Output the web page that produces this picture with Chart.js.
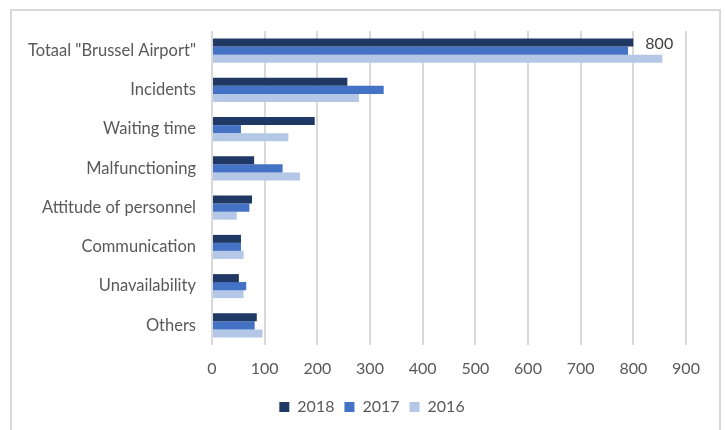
<!DOCTYPE html>
<html><head><meta charset="utf-8">
<script src="https://cdn.jsdelivr.net/npm/chart.js@4"></script>
<style>
html,body{margin:0;padding:0;background:#fff;}
canvas{display:block;}
</style></head>
<body>
<canvas id="c" width="726" height="430"></canvas>
<script>
const categories = ['Totaal "Brussel Airport"','Incidents','Waiting time','Malfunctioning','Attitude of personnel','Communication','Unavailability','Others'];
const seriesNames = ['2018','2017','2016'];
const values2018 = [800,257,195,80,76,55,51,85];
const values2017 = [790,326,55,134,71,55,65,81];
const values2016 = [855,279,145,167,47,60,60,96];
const xTicks = [0,100,200,300,400,500,600,700,800,900];
const colors = ['#203864','#4472C4','#B4C7E7'];
const labelled = {dataset:0,index:0};

const FONT = 'Lato, "Liberation Sans", sans-serif';
const framePlugin = {
  id:'frame',
  beforeDraw(chart){
    const ctx = chart.ctx;
    ctx.save();
    ctx.strokeStyle = '#d9d9d9';
    ctx.lineWidth = 2;
    ctx.strokeRect(11, 10, 709, 440);
    ctx.restore();
    // centre the legend like the original (slightly right of canvas centre)
    if (chart.legend) { chart.legend.left = 58; chart.legend.right = 686; }
  }
};
const labelPlugin = {
  id:'lbl',
  afterDatasetsDraw(chart){
    const meta = chart.getDatasetMeta(labelled.dataset);
    const el = meta.data[labelled.index];
    const v = chart.data.datasets[labelled.dataset].data[labelled.index];
    const ctx = chart.ctx;
    ctx.save();
    ctx.font = '16px ' + FONT;
    ctx.fillStyle = '#404040';
    ctx.textAlign='left'; ctx.textBaseline='middle';
    ctx.fillText(String(v), el.x + 12, el.y + 1);
    ctx.restore();
  }
};

new Chart(document.getElementById('c'),{
  type:'bar',
  data:{
    labels:categories,
    datasets:[values2018,values2017,values2016].map((d,i)=>({
      label:seriesNames[i], data:d, backgroundColor:colors[i],
      categoryPercentage:0.612, barPercentage:1.0
    }))
  },
  options:{
    indexAxis:'y',
    responsive:false,
    animation:false,
    layout:{padding:{left:0,right:40,top:31,bottom:5}},
    plugins:{
      legend:{position:'bottom',labels:{boxWidth:10,boxHeight:10,font:{family:FONT,size:16},color:'#595959',padding:10}},
      tooltip:{enabled:false}
    },
    scales:{
      x:{min:0,max:900,
        afterBuildTicks(s){ s.ticks = xTicks.map(v=>({value:v})); },
        afterFit(s){ s.height = 44; },
        grid:{color:'#d9d9d9',lineWidth:2,drawTicks:false},
        border:{display:false},
        ticks:{font:{family:FONT,size:16},color:'#595959',padding:14}
      },
      y:{
        grid:{display:false,drawTicks:false},border:{display:false},
        afterFit(s){ s.width = 212; },
        ticks:{font:{family:FONT,size:16.5},color:'#595959',padding:16,autoSkip:false}
      }
    }
  },
  plugins:[framePlugin,labelPlugin]
});
</script>
</body></html>
